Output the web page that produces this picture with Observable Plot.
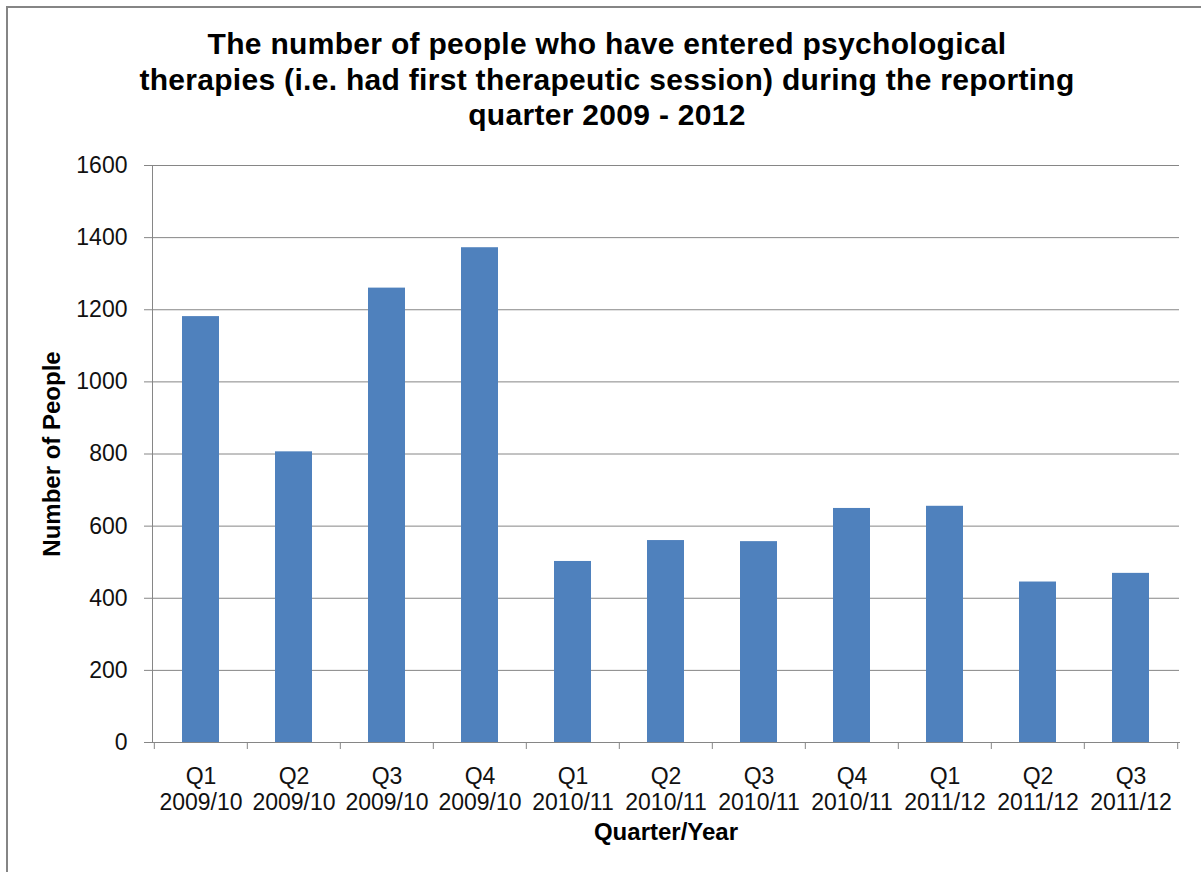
<!DOCTYPE html>
<html>
<head>
<meta charset="utf-8">
<script src="https://cdn.jsdelivr.net/npm/d3@7"></script>
<script src="https://cdn.jsdelivr.net/npm/@observablehq/plot@0.6"></script>
<style>
  html, body { margin: 0; padding: 0; background: #fff; }
  #wrap { position: relative; width: 1201px; height: 872px; overflow: hidden; font-family: "Liberation Sans", Arial, sans-serif; }
  #frameBox { position: absolute; left: 6px; top: 6px; width: 1300px; height: 1000px; border: 2px solid #858585; box-sizing: border-box; pointer-events: none; }
  #title { box-sizing: border-box; width: 1201px; height: 150px; padding-top: 26px; padding-left: 13px; text-align: center; font-weight: bold; font-size: 30px; line-height: 35.5px; letter-spacing: 0.3px; color: #000; }
  #chart svg { display: block; }
  [aria-label="axis-title"] text { letter-spacing: 0.8px; }
</style>
</head>
<body>
<div id="wrap">
  <div id="title">The number of people who have entered psychological<br>therapies (i.e. had first therapeutic session) during the reporting<br>quarter 2009 - 2012</div>
  <div id="chart"></div>
  <div id="frameBox"></div>
</div>
<script>
const quarters = ["Q1", "Q2", "Q3", "Q4", "Q1", "Q2", "Q3", "Q4", "Q1", "Q2", "Q3"];
const years = ["2009/10", "2009/10", "2009/10", "2009/10", "2010/11", "2010/11", "2010/11", "2010/11", "2011/12", "2011/12", "2011/12"];
const people = [1181, 806, 1260, 1372, 502, 560, 557, 649, 655, 445, 469];
const yTicks = [0, 200, 400, 600, 800, 1000, 1200, 1400, 1600];
const xTitle = "Quarter/Year";
const yTitle = "Number of People";

const labels = quarters.map((q, i) => q + "\n" + years[i]);
const data = labels.map((label, i) => ({label, value: people[i]}));

const W = 1201, H = 722, mL = 152, mR = 22, mT = 15, mB = 130;
const step = (W - mL - mR) / labels.length;
const gray = "#868686";
const font = "'Liberation Sans', Arial, sans-serif";

const chart = Plot.plot({
  width: W,
  height: H,
  marginLeft: mL,
  marginRight: mR,
  marginTop: mT,
  marginBottom: mB,
  style: {fontFamily: font, background: "white", color: "#111"},
  x: {type: "band", domain: labels, paddingInner: 0.6, paddingOuter: 0.3},
  y: {domain: [0, 1600]},
  marks: [
    Plot.gridY(yTicks, {stroke: gray, strokeOpacity: 1}),
    Plot.frame({anchor: "left", stroke: gray}),
    Plot.frame({anchor: "bottom", stroke: gray}),
    Plot.barY(data, {x: "label", y: "value", fill: "#4F81BD"}),
    Plot.axisY(yTicks, {tickSize: 8, tickPadding: 17, stroke: gray, fill: "#111", fontSize: 23, tickFormat: d => String(d), label: null}),
    Plot.axisX({tickSize: 7, stroke: gray, fill: "none", dx: -step / 2, label: null}),
    Plot.axisX([labels[labels.length - 1]], {tickSize: 7, stroke: gray, fill: "none", dx: step / 2, label: null}),
    Plot.axisX({tickSize: 0, tickPadding: 24, fill: "#111", fontSize: 23, lineHeight: 1.1, label: null}),
    Plot.text([xTitle], {frameAnchor: "bottom", textAnchor: "middle", lineAnchor: "middle", dy: 90, fontSize: 24, fontWeight: "bold", fill: "#000", ariaLabel: "axis-title"}),
    Plot.text([yTitle], {frameAnchor: "left", textAnchor: "middle", lineAnchor: "middle", rotate: -90, dx: -100, fontSize: 24, fontWeight: "bold", fill: "#000", ariaLabel: "axis-title"})
  ]
});
document.getElementById("chart").appendChild(chart);
</script>
</body>
</html>
